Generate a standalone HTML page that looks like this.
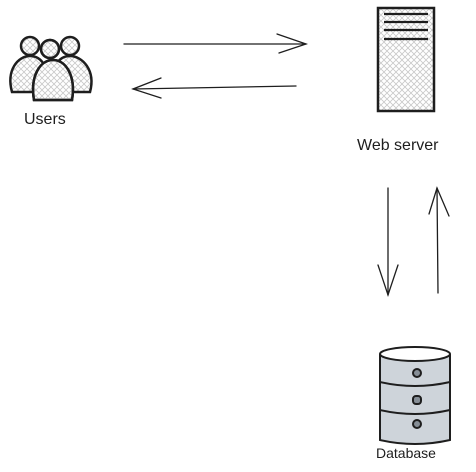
<!DOCTYPE html>
<html><head><style>
body{margin:0;background:#fff;width:476px;height:472px;overflow:hidden}
svg{display:block}
text{font-family:"Comic Sans MS","Liberation Sans",sans-serif;fill:#1e1e1e}
</style></head><body>
<svg width="476" height="472" viewBox="0 0 476 472" xmlns="http://www.w3.org/2000/svg">
<defs>
<pattern id="h" width="6" height="6" patternUnits="userSpaceOnUse">
<path d="M0 0L6 6M6 0L0 6" stroke="#c8c8c8" stroke-width="0.8"/>
</pattern>
</defs>
<g stroke="#1e1e1e" stroke-width="1.3" fill="none" stroke-linecap="round">
<line x1="124" y1="44" x2="306" y2="44"/>
<path d="M277 34L306 44L279 53"/>
<line x1="296" y1="86" x2="133" y2="89"/>
<path d="M161 78L133 89L161 98"/>
<line x1="388" y1="188" x2="388" y2="295"/>
<path d="M378 265L388 295L398 265"/>
<line x1="438" y1="293" x2="437" y2="188"/>
<path d="M429 214L437 188L449 216"/>
</g>
<!-- users -->
<g stroke="#1e1e1e" stroke-width="2.5" fill="url(#h)">
<circle cx="30" cy="46" r="9"/>
<circle cx="70" cy="46" r="9"/>
<path d="M12 92C6 70 18 56 30 56C42 56 50 68 48 92Z"/>
<path d="M52 92C50 68 58 56 70 56C82 56 96 70 90 92Z"/>
<circle cx="50" cy="49" r="9" fill="#fff"/>
<circle cx="50" cy="49" r="9"/>
<path d="M34 100C30 76 40 60 53 60C66 60 76 76 72 100Z" fill="#fff"/>
<path d="M34 100C30 76 40 60 53 60C66 60 76 76 72 100Z"/>
</g>
<text x="24" y="124" font-size="16">Users</text>
<!-- server -->
<rect x="378" y="8" width="56" height="103" fill="url(#h)" stroke="#1e1e1e" stroke-width="2.5"/>
<g stroke="#1e1e1e" stroke-width="2.2">
<line x1="384" y1="14" x2="428" y2="14"/>
<line x1="384" y1="22" x2="428" y2="22"/>
<line x1="384" y1="30" x2="428" y2="30"/>
<line x1="384" y1="39" x2="428" y2="39"/>
</g>
<text x="357" y="150" font-size="16">Web server</text>
<!-- database -->
<g stroke="#1e1e1e" stroke-width="2" fill="#ced4da">
<path d="M380 354L380 440Q415 448 450 440L450 354"/>
<ellipse cx="415" cy="354" rx="35" ry="7" fill="#fff"/>
<path d="M380 382Q415 390 450 382M380 410Q415 418 450 410" fill="none"/>
<circle cx="417" cy="373" r="4" fill="#868e96"/>
<rect x="413" y="396" width="8" height="8" rx="3" fill="#868e96"/>
<circle cx="417" cy="424" r="4" fill="#868e96"/>
</g>
<text x="376" y="458" font-size="14">Database</text>
</svg>
</body></html>
